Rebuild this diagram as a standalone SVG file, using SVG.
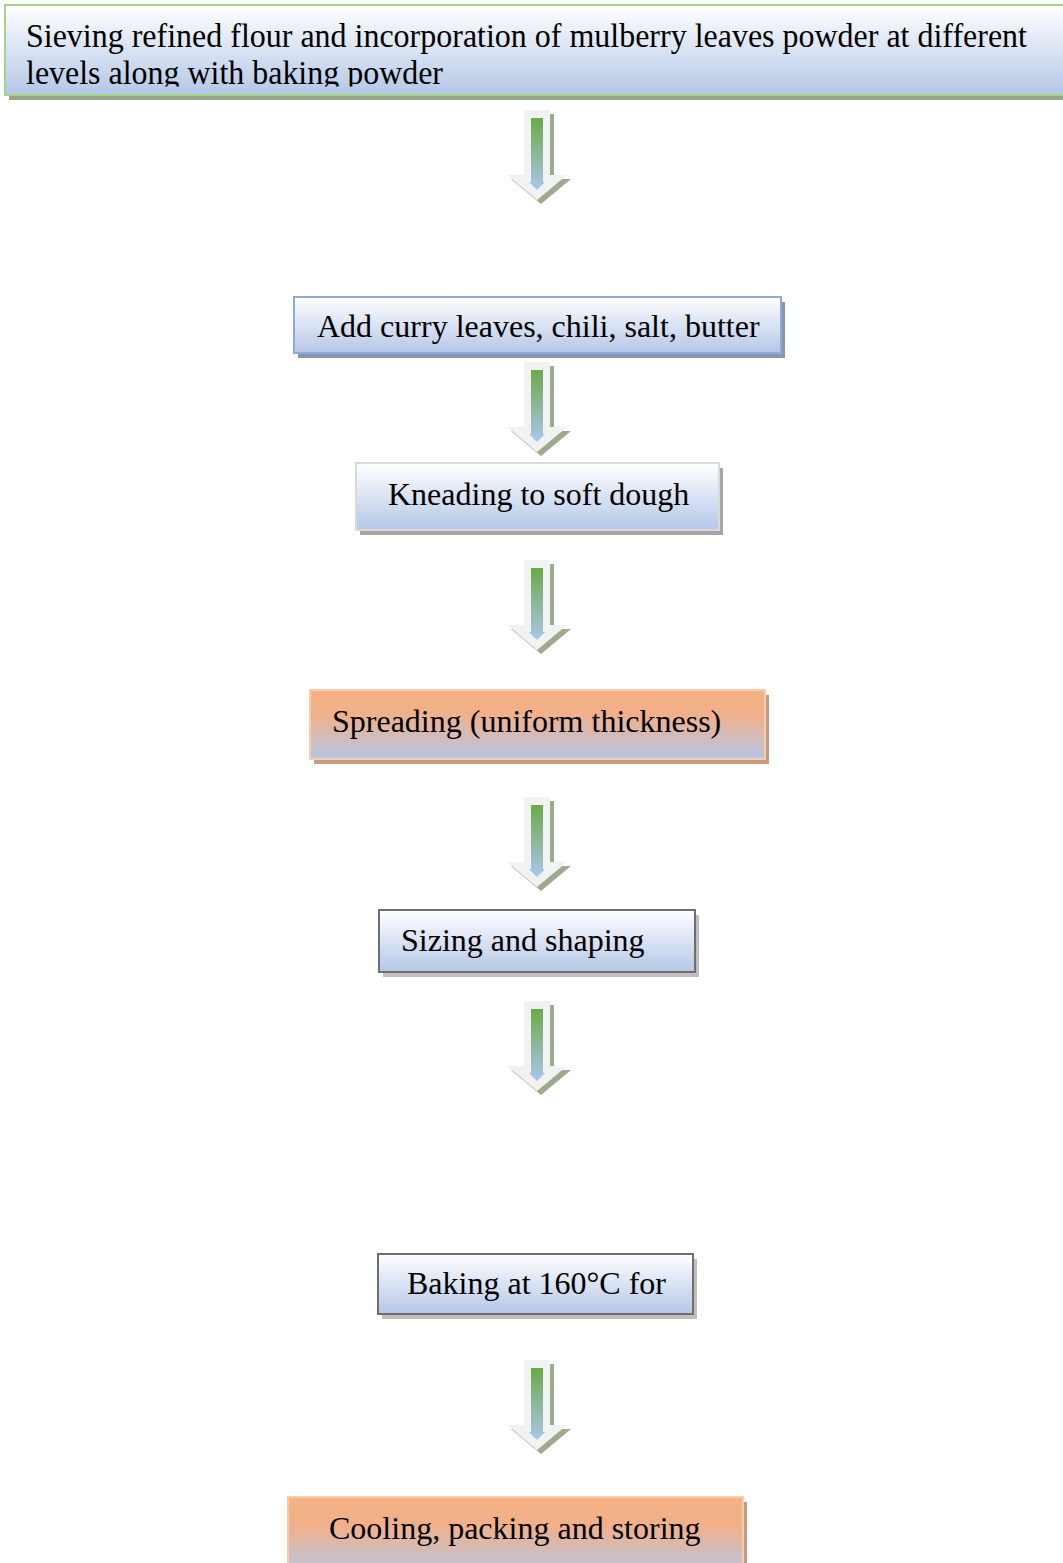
<svg xmlns="http://www.w3.org/2000/svg" width="1063" height="1563" viewBox="0 0 1063 1563">
<defs>
<linearGradient id="gBlue" x1="0" y1="0" x2="0" y2="1">
<stop offset="0" stop-color="#ffffff"/><stop offset="1" stop-color="#b4c7e7"/>
</linearGradient>
<linearGradient id="gOrange" x1="0" y1="0" x2="0" y2="1">
<stop offset="0" stop-color="#f4b183"/><stop offset="0.35" stop-color="#f2b08a"/><stop offset="1" stop-color="#b4c7e7"/>
</linearGradient>
<linearGradient id="gArrow" x1="0" y1="0" x2="0" y2="1">
<stop offset="0" stop-color="#6aab45"/><stop offset="1" stop-color="#aac6ee"/>
</linearGradient>
<clipPath id="c1"><rect x="0" y="0" width="1063" height="86.5"/></clipPath>
<g id="arrow">
<polygon points="-9,4 17,4 17,69 34,69 4,94 -26,69 -9,69" fill="#9cab8e"/>
<polygon points="-13,0 13,0 13,65 30,65 0,90 -30,65 -13,65" fill="#f2f2f2"/>
<polygon points="-6,8 6,8 6,72 8,72 0,80 -8,72 -6,72" fill="url(#gArrow)"/>
</g>
</defs>
<style>
text{font-family:"Liberation Serif","Times New Roman",serif;font-size:32px;fill:#000}
.big{font-size:33px}
.blue{fill:url(#gBlue)}
.orange{fill:url(#gOrange);stroke:#f8cbad;stroke-width:2}
</style>
<g id="node1">
<rect x="9" y="9" width="1070" height="91" fill="#98a68a"/>
<rect x="5" y="5" width="1070" height="90" class="blue" stroke="#a6d28c" stroke-width="2"/>
<g clip-path="url(#c1)">
<text class="big" x="26" y="47" textLength="1001" lengthAdjust="spacingAndGlyphs">Sieving refined flour and incorporation of mulberry leaves powder at different</text>
<text class="big" x="26" y="84" textLength="417" lengthAdjust="spacingAndGlyphs">levels along with baking powder</text>
</g>
</g>
<g id="node2">
<rect x="298" y="302" width="487" height="56" fill="#8797b0"/>
<rect x="294" y="297" width="487" height="56" class="blue" stroke="#8eaadb" stroke-width="2"/>
<text x="317" y="337">Add curry leaves, chili, salt, butter</text>
</g>
<g id="node3">
<rect x="360" y="468" width="363" height="67" fill="#a6a6a6"/>
<rect x="356" y="463" width="363" height="67" class="blue" stroke="#d9d9d9" stroke-width="2"/>
<text x="388" y="505">Kneading to soft dough</text>
</g>
<g id="node4">
<rect x="314" y="695" width="455" height="69" fill="#c49b80"/>
<rect x="310" y="690" width="455" height="69" class="orange"/>
<text x="332" y="732">Spreading (uniform thickness)</text>
</g>
<g id="node5">
<rect x="383" y="915" width="316" height="62" fill="#bfbfbf"/>
<rect x="379" y="910" width="316" height="62" class="blue" stroke="#6e6e6e" stroke-width="2"/>
<text x="401" y="951">Sizing and shaping</text>
</g>
<g id="node6">
<rect x="382" y="1259" width="315" height="60" fill="#bfbfbf"/>
<rect x="378" y="1254" width="315" height="60" class="blue" stroke="#6e6e6e" stroke-width="2"/>
<text x="407" y="1294">Baking at 160°C for</text>
</g>
<g id="node7">
<rect x="292" y="1502" width="455" height="80" fill="#c49b80"/>
<rect x="288" y="1497" width="455" height="80" class="orange"/>
<text x="329" y="1539">Cooling, packing and storing</text>
</g>
<g id="connectors">
<use href="#arrow" x="537" y="110"/>
<use href="#arrow" x="537" y="362"/>
<use href="#arrow" x="537" y="560"/>
<use href="#arrow" x="537" y="797"/>
<use href="#arrow" x="537" y="1001"/>
<use href="#arrow" x="537" y="1360"/>
</g>
</svg>
